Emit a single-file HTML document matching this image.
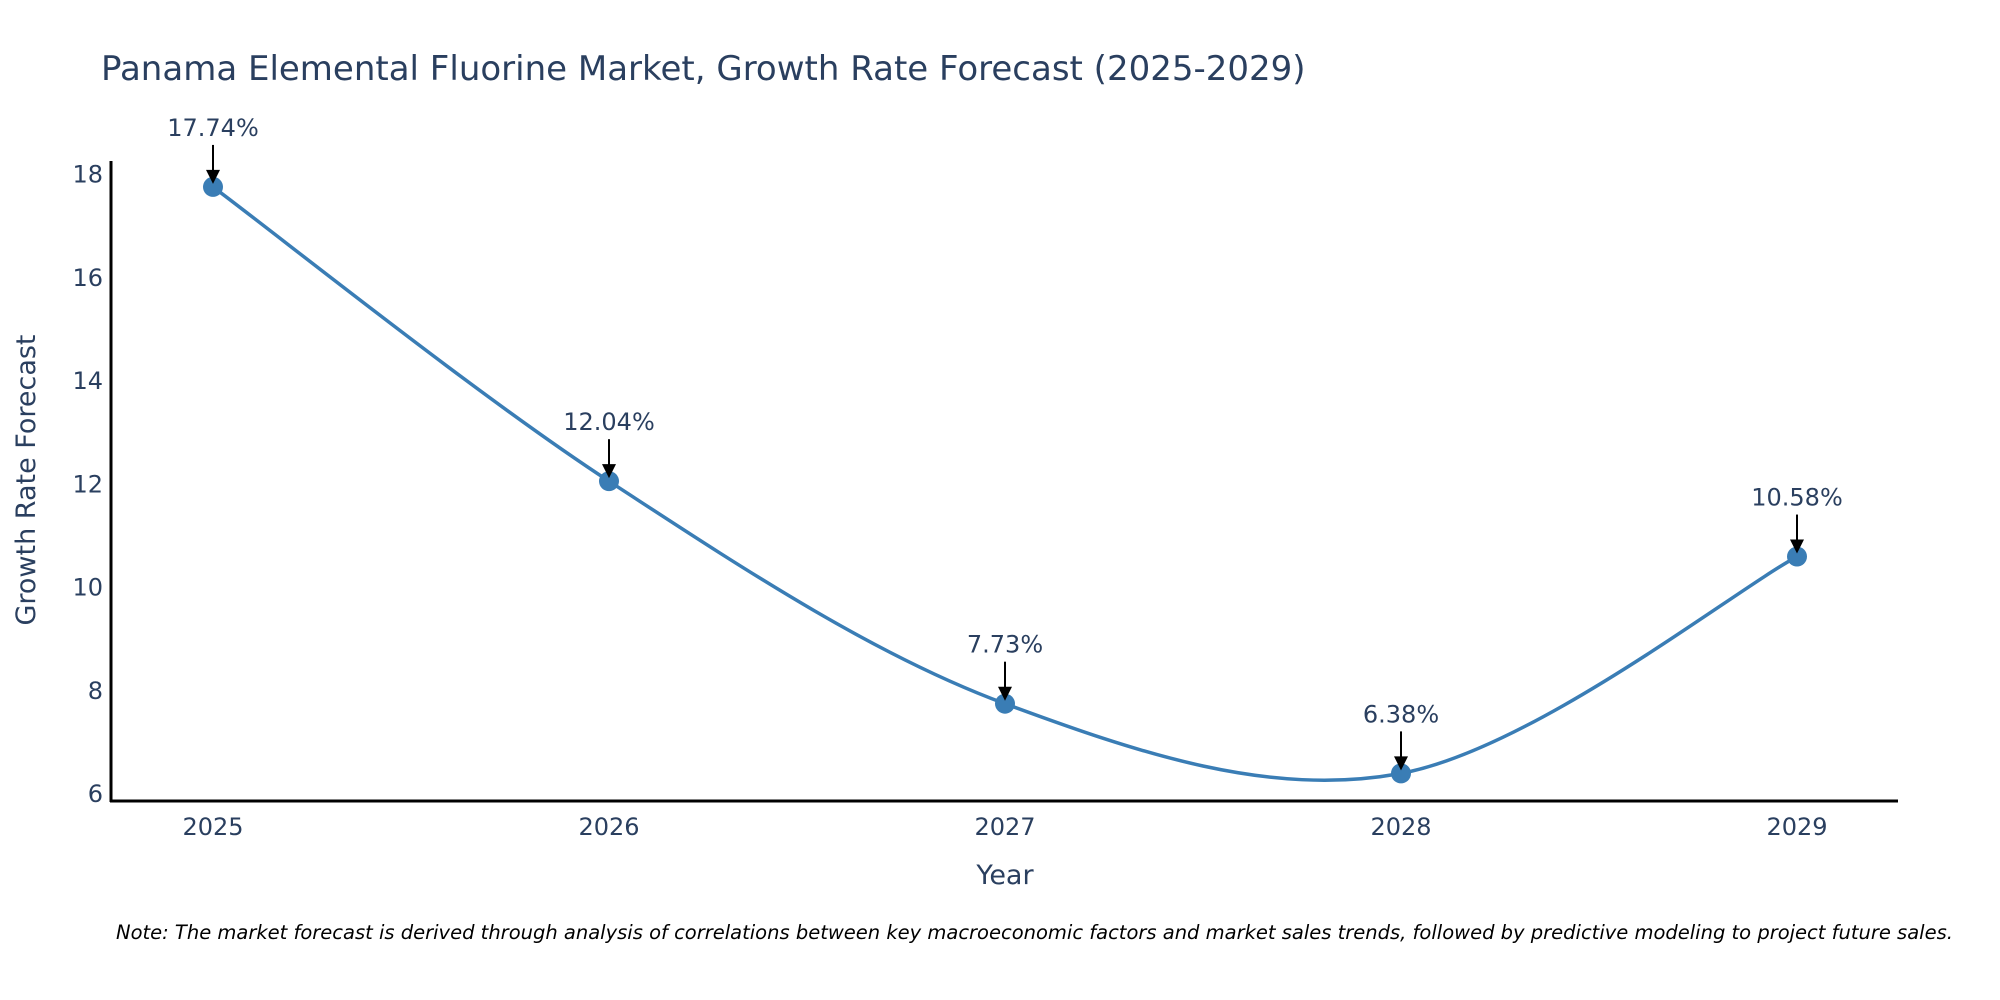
<!DOCTYPE html>
<html><head><meta charset="utf-8">
<style>
html,body{margin:0;padding:0;background:#fff;}
svg{display:block;font-family:"DejaVu Sans","Liberation Sans",sans-serif;}
</style></head>
<body>
<svg id="chart" width="2000" height="1000" viewBox="0 0 2000 1000">
<text x="101" y="80" font-size="34" fill="#2a3f5f">Panama Elemental Fluorine Market, Growth Rate Forecast (2025-2029)</text>
<g id="yticks"></g>
<g id="xticks"></g>
<line x1="111" y1="161" x2="111" y2="802" stroke="#000" stroke-width="3"/>
<line x1="110" y1="801" x2="1898" y2="801" stroke="#000" stroke-width="3"/>
<text transform="translate(35,480) rotate(-90)" text-anchor="middle" font-size="27" fill="#2a3f5f">Growth Rate Forecast</text>
<text x="1005" y="884" text-anchor="middle" font-size="27" fill="#2a3f5f">Year</text>
<path id="line" fill="none" stroke="#3a7db5" stroke-width="3.5"/>
<g id="points"></g>
<g id="annots"></g>
<text x="116" y="939" font-size="19.5" font-style="italic" fill="#000">Note: The market forecast is derived through analysis of correlations between key macroeconomic factors and market sales trends, followed by predictive modeling to project future sales.</text>
</svg>
<script>
const categories = ["2025","2026","2027","2028","2029"];
const values = [17.74, 12.04, 7.73, 6.38, 10.58];
const yTicks = [6, 8, 10, 12, 14, 16, 18];
const NS = "http://www.w3.org/2000/svg";
function xScale(i){ return 213 + i * (1797 - 213) / (categories.length - 1); }
function yScale(v){ return 793 - (v - 6) * (793 - 173.5) / 12; }
function mk(tag, attrs, parent){ const e=document.createElementNS(NS,tag); for(const k in attrs) e.setAttribute(k,attrs[k]); parent.appendChild(e); return e; }
const yt=document.getElementById('yticks');
yTicks.forEach(v=>{
  const t=mk('text',{x:103,y:yScale(v)+9,'text-anchor':'end','font-size':24,fill:'#2a3f5f'},yt);
  
  
  t.textContent=v;
});
const xt=document.getElementById('xticks');
categories.forEach((c,i)=>{
  const t=mk('text',{x:xScale(i),y:835,'text-anchor':'middle','font-size':24,fill:'#2a3f5f'},xt);
  
  
  t.textContent=c;
});
const pts=values.map((v,i)=>[xScale(i),yScale(v)]);
let d=`M${pts[0][0]},${pts[0][1]}`;
for(let i=0;i<pts.length-1;i++){
  const p0=pts[Math.max(0,i-1)],p1=pts[i],p2=pts[i+1],p3=pts[Math.min(pts.length-1,i+2)];
  const c1=[p1[0]+(p2[0]-p0[0])/6,p1[1]+(p2[1]-p0[1])/6];
  const c2=[p2[0]-(p3[0]-p1[0])/6,p2[1]-(p3[1]-p1[1])/6];
  d+=` C${c1[0]},${c1[1]} ${c2[0]},${c2[1]} ${p2[0]},${p2[1]}`;
}
document.getElementById('line').setAttribute('d',d);
const pg=document.getElementById('points'), ag=document.getElementById('annots');
pts.forEach((p,i)=>{
  const c=mk('circle',{cx:p[0],cy:p[1],r:10,fill:'#3a7db5'},pg);
  
  
  const l=mk('line',{x1:p[0],y1:p[1]-42,x2:p[0],y2:p[1]-14,stroke:'#000','stroke-width':2},ag);
  
  
  const h=mk('polygon',{points:`${p[0]-7},${p[1]-17} ${p[0]+7},${p[1]-17} ${p[0]},${p[1]-3}`,fill:'#000'},ag);
  
  
  const t=mk('text',{x:p[0],y:p[1]-51,'text-anchor':'middle','font-size':24,fill:'#2a3f5f'},ag);
  
  
  t.textContent=values[i].toFixed(2)+'%';
});
</script>
</body></html>
